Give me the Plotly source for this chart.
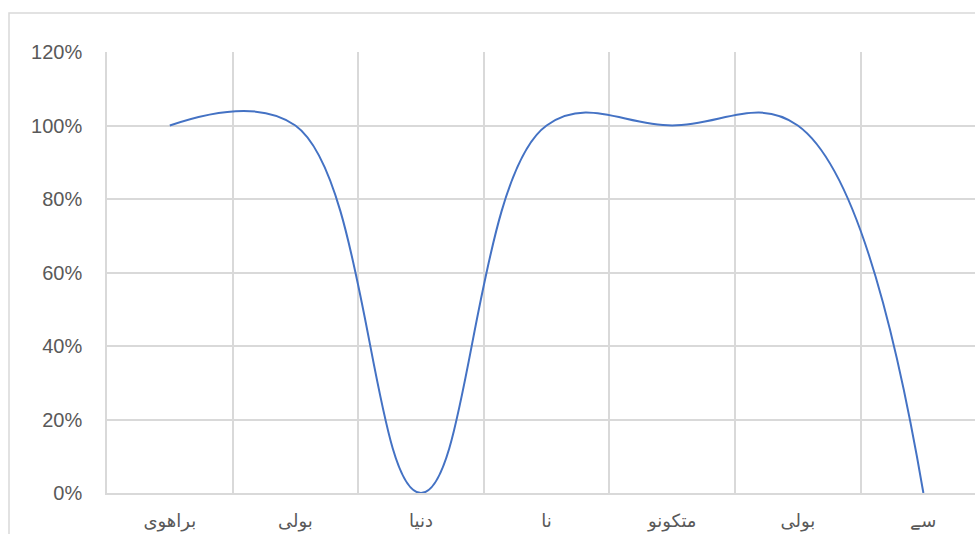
import plotly.graph_objects as go

# Share of speakers per word (as fractions of 1)
categories = ["براهوی", "بولی", "دنیا", "نا", "متکونو", "بولی", "سے"]
shares = [1.0, 1.0, 0.0, 1.0, 1.0, 1.0, 0.0]
y_ticks = [0.0, 0.2, 0.4, 0.6, 0.8, 1.0, 1.2]

positions = list(range(len(categories)))
# vertical grid lines sit between categories
boundaries = [p + 0.5 for p in positions[:-1]]

W, H = 975, 534
ML, MT, MB, MR = 107, 52, 41, 0
plot_w = W - ML - MR
plot_h = H - MT - MB
cat_px = 125.6  # width of one category slot in pixels

GRID = "#D9D9D9"
TEXT = "#595959"
FONT = "Liberation Sans, DejaVu Sans, sans-serif"

fig = go.Figure(
    go.Scatter(
        x=positions,
        y=shares,
        mode="lines",
        line=dict(color="#4472C4", width=2, shape="spline", smoothing=1.15),
        hoverinfo="skip",
    )
)

fig.update_layout(
    width=W,
    height=H,
    margin=dict(l=ML, r=MR, t=MT, b=MB, pad=0),
    paper_bgcolor="white",
    plot_bgcolor="white",
    showlegend=False,
    font=dict(family=FONT, color=TEXT, size=20),
    xaxis=dict(
        range=[-0.5, -0.5 + plot_w / cat_px],
        tickmode="array",
        tickvals=positions,
        ticktext=categories,
        showgrid=False,
        zeroline=False,
        showline=True,
        linecolor=GRID,
        linewidth=2,
        ticks="",
        ticklabelstandoff=10,
        tickfont=dict(family="DejaVu Sans, sans-serif", size=18, color=TEXT),
        minor=dict(tickmode="array", tickvals=boundaries, showgrid=True,
                   gridcolor=GRID, gridwidth=1.6, ticks=""),
        fixedrange=True,
    ),
    yaxis=dict(
        range=[0, 1.2],
        tickmode="array",
        tickvals=y_ticks,
        tickformat=".0%",
        showgrid=True,
        gridcolor=GRID,
        gridwidth=1.6,
        zeroline=False,
        showline=True,
        linecolor=GRID,
        linewidth=1.6,
        ticks="",
        ticklabelstandoff=19,
        tickfont=dict(family=FONT, size=20, color=TEXT),
        fixedrange=True,
    ),
    shapes=[
        # chart area border
        dict(
            type="rect",
            xref="paper",
            yref="paper",
            x0=(9 - ML) / plot_w,
            x1=1.05,
            y0=-0.2,
            y1=1 + (MT - 13) / plot_h,
            line=dict(color=GRID, width=1.5),
            fillcolor="rgba(0,0,0,0)",
            layer="below",
        )
    ],
)

fig.write_html("out.html", config={"displayModeBar": False})
